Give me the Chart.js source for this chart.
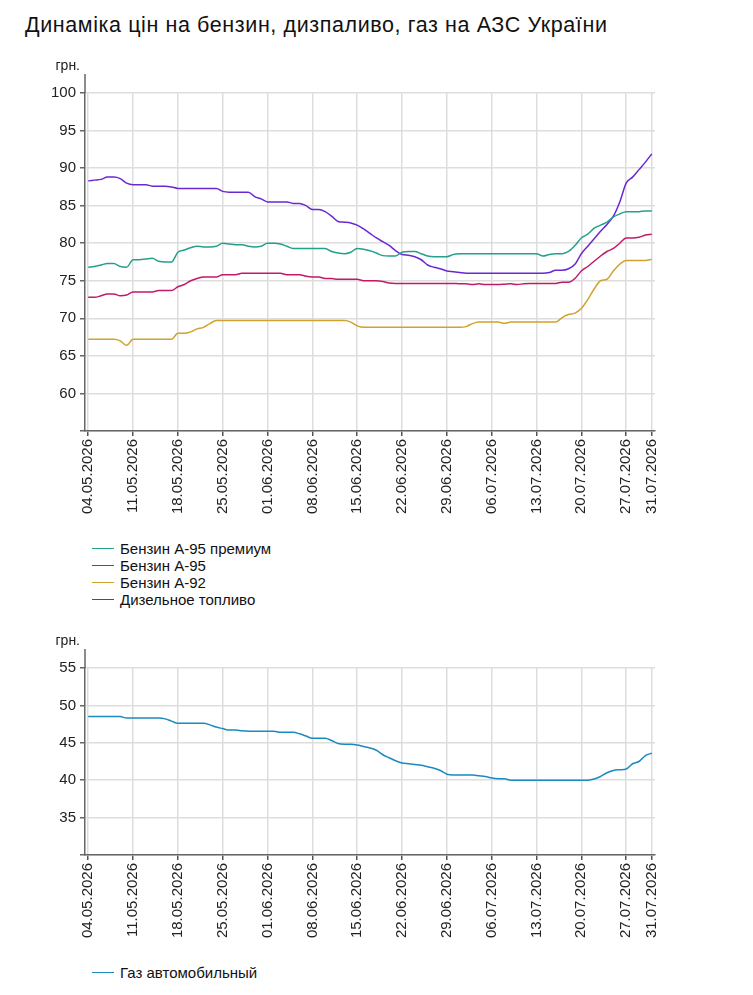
<!DOCTYPE html>
<html lang="uk">
<head>
<meta charset="utf-8">
<title>Динаміка цін на бензин, дизпаливо, газ на АЗС України</title>
<script src="https://cdn.jsdelivr.net/npm/chart.js@4.4.1/dist/chart.umd.min.js"></script>
<style>
  body { margin: 0; background: #fff; font-family: "Liberation Sans", Arial, sans-serif; color: #111; }
  #page { position: relative; width: 753px; height: 995px; }
  h1 { position: absolute; left: 25px; top: 13px; margin: 0; font-size: 21.5px; letter-spacing: 0.6px; line-height: 24px; font-weight: normal; }
  .box { position: absolute; left: 0; width: 753px; }
  .legend { position: absolute; left: 92px; font-size: 15px; line-height: 17px; color: #111; }
  .legend .row { display: flex; align-items: center; }
  .legend .sw { display: inline-block; width: 22px; height: 0; border-top: 1.5px solid; margin-right: 6px; }
</style>
</head>
<body>
<div id="page">
  <h1>Динаміка цін на бензин, дизпаливо, газ на АЗС України</h1>
  <div class="box" style="top:40px;height:480px"><canvas id="fuelChart"></canvas></div>
  <div class="legend" id="fuelLegend" style="top:540px"></div>
  <div class="box" style="top:615px;height:329px"><canvas id="gasChart"></canvas></div>
  <div class="legend" id="gasLegend" style="top:964px"></div>
</div>
<script>
// Дати (щоденно)
const dates = [
  '04.05.2026','05.05.2026','06.05.2026','07.05.2026','08.05.2026','09.05.2026','10.05.2026',
  '11.05.2026','12.05.2026','13.05.2026','14.05.2026','15.05.2026','16.05.2026','17.05.2026',
  '18.05.2026','19.05.2026','20.05.2026','21.05.2026','22.05.2026','23.05.2026','24.05.2026',
  '25.05.2026','26.05.2026','27.05.2026','28.05.2026','29.05.2026','30.05.2026','31.05.2026',
  '01.06.2026','02.06.2026','03.06.2026','04.06.2026','05.06.2026','06.06.2026','07.06.2026',
  '08.06.2026','09.06.2026','10.06.2026','11.06.2026','12.06.2026','13.06.2026','14.06.2026',
  '15.06.2026','16.06.2026','17.06.2026','18.06.2026','19.06.2026','20.06.2026','21.06.2026',
  '22.06.2026','23.06.2026','24.06.2026','25.06.2026','26.06.2026','27.06.2026','28.06.2026',
  '29.06.2026','30.06.2026','01.07.2026','02.07.2026','03.07.2026','04.07.2026','05.07.2026',
  '06.07.2026','07.07.2026','08.07.2026','09.07.2026','10.07.2026','11.07.2026','12.07.2026',
  '13.07.2026','14.07.2026','15.07.2026','16.07.2026','17.07.2026','18.07.2026','19.07.2026',
  '20.07.2026','21.07.2026','22.07.2026','23.07.2026','24.07.2026','25.07.2026','26.07.2026',
  '27.07.2026','28.07.2026','29.07.2026','30.07.2026','31.07.2026'
];

// Підписи, які видно на осі X
const tickDates = [
  '04.05.2026','11.05.2026','18.05.2026','25.05.2026','01.06.2026','08.06.2026','15.06.2026',
  '22.06.2026','29.06.2026','06.07.2026','13.07.2026','20.07.2026','27.07.2026','31.07.2026'
];

// Ціни, грн.
const a95premium = [
  76.8,76.9,77.1,77.3,77.3,76.9,76.8,77.8,77.8,77.9,
  78.0,77.6,77.5,77.5,78.8,79.1,79.4,79.6,79.5,79.5,
  79.6,80.0,79.9,79.8,79.8,79.6,79.5,79.6,80.0,80.0,
  79.9,79.6,79.3,79.3,79.3,79.3,79.3,79.3,78.9,78.7,
  78.6,78.8,79.3,79.2,79.0,78.7,78.35,78.3,78.3,78.8,
  78.9,78.9,78.6,78.3,78.2,78.2,78.2,78.5,78.6,78.6,
  78.6,78.6,78.6,78.6,78.6,78.6,78.6,78.6,78.6,78.6,
  78.6,78.3,78.5,78.6,78.6,78.9,79.7,80.7,81.2,82.0,
  82.4,82.8,83.5,83.9,84.2,84.2,84.2,84.3,84.3
];
const a95 = [
  72.8,72.8,73.0,73.25,73.25,73.0,73.1,73.5,73.5,73.5,
  73.5,73.7,73.7,73.7,74.2,74.5,75.0,75.3,75.5,75.5,
  75.5,75.8,75.8,75.8,76.0,76.0,76.0,76.0,76.0,76.0,
  76.0,75.8,75.8,75.8,75.6,75.5,75.5,75.3,75.3,75.2,
  75.2,75.2,75.2,75.0,75.0,75.0,74.9,74.7,74.65,74.65,
  74.65,74.65,74.65,74.65,74.65,74.65,74.65,74.65,74.6,74.6,
  74.5,74.6,74.5,74.5,74.5,74.55,74.6,74.5,74.6,74.65,
  74.65,74.65,74.65,74.65,74.8,74.8,75.3,76.3,76.9,77.6,
  78.3,78.9,79.3,80.0,80.7,80.7,80.8,81.1,81.2
];
const a92 = [
  67.2,67.2,67.2,67.2,67.2,67.0,66.4,67.2,67.2,67.2,
  67.2,67.2,67.2,67.2,68.0,68.0,68.2,68.6,68.8,69.3,
  69.7,69.7,69.7,69.7,69.7,69.7,69.7,69.7,69.7,69.7,
  69.7,69.7,69.7,69.7,69.7,69.7,69.7,69.7,69.7,69.7,
  69.7,69.5,69.0,68.8,68.8,68.8,68.8,68.8,68.8,68.8,
  68.8,68.8,68.8,68.8,68.8,68.8,68.8,68.8,68.8,68.9,
  69.3,69.5,69.5,69.5,69.5,69.35,69.5,69.5,69.5,69.5,
  69.5,69.5,69.5,69.5,70.1,70.5,70.7,71.3,72.5,73.9,
  75.0,75.2,76.3,77.2,77.7,77.7,77.7,77.7,77.85
];
const diesel = [
  88.3,88.4,88.5,88.8,88.8,88.6,88.0,87.8,87.8,87.8,
  87.6,87.6,87.6,87.5,87.3,87.3,87.3,87.3,87.3,87.3,
  87.3,86.9,86.8,86.8,86.8,86.8,86.2,85.9,85.5,85.5,
  85.5,85.5,85.3,85.3,85.0,84.5,84.5,84.2,83.6,82.9,
  82.8,82.7,82.4,81.9,81.3,80.7,80.2,79.7,79.0,78.5,
  78.4,78.2,77.8,77.1,76.8,76.6,76.3,76.2,76.1,76.0,
  76.0,76.0,76.0,76.0,76.0,76.0,76.0,76.0,76.0,76.0,
  76.0,76.0,76.1,76.4,76.4,76.6,77.2,78.6,79.6,80.6,
  81.6,82.5,83.6,85.5,88.0,88.8,89.8,90.8,91.9
];
const gas = [
  48.5,48.5,48.5,48.5,48.5,48.5,48.3,48.3,48.3,48.3,
  48.3,48.3,48.2,47.9,47.6,47.6,47.6,47.6,47.6,47.4,
  47.1,46.9,46.7,46.7,46.6,46.55,46.55,46.55,46.55,46.55,
  46.4,46.4,46.4,46.2,45.9,45.6,45.6,45.6,45.3,44.9,
  44.8,44.8,44.7,44.5,44.3,44.0,43.4,43.0,42.6,42.3,
  42.2,42.1,42.0,41.8,41.6,41.3,40.8,40.7,40.7,40.7,
  40.7,40.6,40.5,40.3,40.2,40.2,40.0,40.0,40.0,40.0,
  40.0,40.0,40.0,40.0,40.0,40.0,40.0,40.0,40.0,40.15,
  40.5,41.0,41.3,41.4,41.5,42.2,42.5,43.3,43.6
];

const fuelNames = ['Бензин А-95 премиум', 'Бензин А-95', 'Бензин А-92', 'Дизельное топливо'];
const fuelColors = ['#24a08a', '#c4196a', '#d1a22c', '#6a28d2'];
const gasNames = ['Газ автомобильный'];
const gasColors = ['#1a8ac0'];

const FONT = '"Liberation Sans", Arial, sans-serif';

// Продовження осі Y вгору та підпис "грн."
const unitLabel = {
  id: 'unitLabel',
  afterDraw(chart) {
    const { ctx, chartArea } = chart;
    ctx.save();
    ctx.strokeStyle = '#666';
    ctx.lineWidth = 1.5;
    ctx.beginPath();
    ctx.moveTo(chartArea.left, chartArea.top);
    ctx.lineTo(chartArea.left, chartArea.top - 19);
    ctx.stroke();
    ctx.fillStyle = '#222';
    ctx.font = '14px ' + FONT;
    ctx.textAlign = 'right';
    ctx.textBaseline = 'middle';
    ctx.fillText('грн.', chartArea.left - 5, chartArea.top - 27);
    ctx.restore();
  }
};

function isShownDate(i) {
  return tickDates.includes(dates[i]);
}

function makeOptions(yMin, yMax) {
  return {
    responsive: true,
    maintainAspectRatio: false,
    animation: false,
    layout: { padding: { top: 53, right: 98, left: 0, bottom: 0 } },
    plugins: { legend: { display: false }, tooltip: { enabled: false } },
    elements: {
      point: { radius: 0 },
      line: { borderWidth: 1.5, cubicInterpolationMode: 'monotone' }
    },
    scales: {
      x: {
        offset: true,
        afterFit: scale => { scale.height = 89; },
        border: { color: '#666', width: 1.5 },
        grid: {
          offset: false,
          lineWidth: 1.5,
          tickLength: 5,
          color: c => isShownDate(c.index) ? '#dddddd' : 'rgba(0,0,0,0)',
          tickColor: c => isShownDate(c.index) ? '#555' : 'rgba(0,0,0,0)'
        },
        ticks: {
          autoSkip: false,
          minRotation: 90,
          maxRotation: 90,
          padding: 3,
          color: '#222',
          font: { family: FONT, size: 15 },
          callback: (v, i) => isShownDate(i) ? dates[i] : ''
        }
      },
      y: {
        min: yMin,
        max: yMax,
        afterFit: scale => { scale.width = 85; },
        border: { color: '#666', width: 1.5 },
        grid: { color: '#dddddd', lineWidth: 1.5, tickLength: 5, tickColor: '#666' },
        ticks: {
          stepSize: 5,
          padding: 4,
          color: '#222',
          font: { family: FONT, size: 15 },
          callback: v => v === yMin ? '' : v
        }
      }
    }
  };
}

function makeLegend(id, names, colors) {
  const el = document.getElementById(id);
  names.forEach((name, i) => {
    const row = document.createElement('div');
    row.className = 'row';
    const sw = document.createElement('span');
    sw.className = 'sw';
    sw.style.borderTopColor = colors[i];
    row.appendChild(sw);
    row.appendChild(document.createTextNode(name));
    el.appendChild(row);
  });
}

const fuelSeries = [a95premium, a95, a92, diesel];

new Chart(document.getElementById('fuelChart'), {
  type: 'line',
  data: {
    labels: dates,
    datasets: fuelSeries.map((s, i) => ({
      label: fuelNames[i],
      data: s,
      borderColor: fuelColors[i],
      backgroundColor: fuelColors[i],
      fill: false
    }))
  },
  options: makeOptions(55, 100),
  plugins: [unitLabel]
});

new Chart(document.getElementById('gasChart'), {
  type: 'line',
  data: {
    labels: dates,
    datasets: [{
      label: gasNames[0],
      data: gas,
      borderColor: gasColors[0],
      backgroundColor: gasColors[0],
      fill: false
    }]
  },
  options: makeOptions(30, 55),
  plugins: [unitLabel]
});

makeLegend('fuelLegend', fuelNames, fuelColors);
makeLegend('gasLegend', gasNames, gasColors);
</script>
</body>
</html>
